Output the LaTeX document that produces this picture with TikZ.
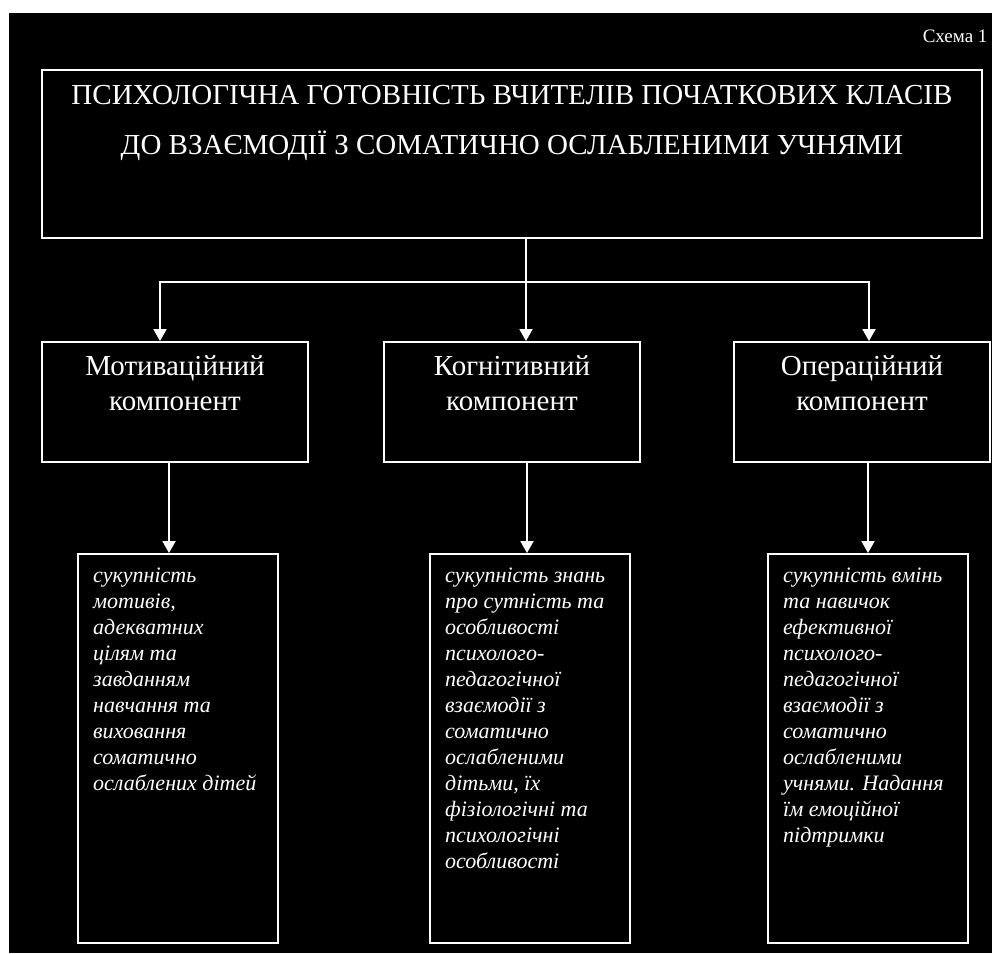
\documentclass[tikz,border=0pt]{standalone}
\usepackage{fontspec}
\setmainfont{Liberation Serif}
\usetikzlibrary{arrows.meta,positioning}

\begin{document}
\begin{tikzpicture}[x=1pt, y=-1pt, >={Triangle[length=12pt, width=13pt]},
    ramka/.style={draw=white, line width=2pt, rectangle, inner sep=0pt, anchor=north west},
    napys/.style={text=white, inner sep=0pt, align=center},
    opys/.style={text=white, inner sep=0pt, align=left, font=\fontsize{22}{26}\selectfont\itshape},
    zvyazok/.style={draw=white, line width=2pt}]
\useasboundingbox (0,0) rectangle (992,953);
\fill[black] (9,13) rectangle (992,953);
% Номер схеми
\node[text=white, anchor=base east, font=\fontsize{19}{19}\selectfont] (skhema) at (991,42) {Схема 1};
% Головний блок
\node[ramka, minimum width=940pt, minimum height=168pt] (golovna) at (41,69) {};
\node[napys, font=\fontsize{29}{50}\selectfont, below=0pt of golovna.north] (golovna-t)
    {\strut ПСИХОЛОГІЧНА ГОТОВНІСТЬ ВЧИТЕЛІВ ПОЧАТКОВИХ КЛАСІВ\\ДО ВЗАЄМОДІЇ З СОМАТИЧНО ОСЛАБЛЕНИМИ УЧНЯМИ};
% Компоненти
\node[ramka, minimum width=266pt, minimum height=120pt] (motyv) at (41,341) {};
\node[ramka, minimum width=256pt, minimum height=120pt] (kognit) at (383,341) {};
\node[ramka, minimum width=256pt, minimum height=120pt] (operac) at (733,341) {};
\node[napys, font=\fontsize{29}{35}\selectfont, below=9.5pt of motyv.north] (motyv-t) {\strut Мотиваційний\\компонент};
\node[napys, font=\fontsize{29}{35}\selectfont, below=9.5pt of kognit.north] (kognit-t) {\strut Когнітивний\\компонент};
\node[napys, font=\fontsize{29}{35}\selectfont, below=9.5pt of operac.north] (operac-t) {\strut Операційний\\компонент};
% Зміст компонентів
\node[ramka, minimum width=200pt, minimum height=389pt] (zmist1) at (77,553) {};
\node[ramka, minimum width=200pt, minimum height=389pt] (zmist2) at (429,553) {};
\node[ramka, minimum width=200pt, minimum height=389pt] (zmist3) at (767,553) {};
\node[opys, below right=11pt and 16pt of zmist1.north west] (zmist1-t)
    {\strut сукупність\\мотивів,\\адекватних\\цілям та\\завданням\\навчання та\\виховання\\соматично\\ослаблених дітей};
\node[opys, below right=11pt and 16pt of zmist2.north west] (zmist2-t)
    {\strut сукупність знань\\про сутність та\\особливості\\психолого-\\педагогічної\\взаємодії з\\соматично\\ослабленими\\дітьми, їх\\фізіологічні та\\психологічні\\особливості};
\node[opys, below right=11pt and 16pt of zmist3.north west] (zmist3-t)
    {\strut сукупність вмінь\\та навичок\\ефективної\\психолого-\\педагогічної\\взаємодії з\\соматично\\ослабленими\\учнями. Надання\\їм емоційної\\підтримки};
% Стрілки
\coordinate (rozg) at (526,282);
\draw[zvyazok] (golovna.south -| rozg) -- (rozg);
\draw[zvyazok,->] (rozg) -- (rozg |- kognit.north);
\draw[zvyazok,->] (rozg) -| ([xshift=-15pt]motyv.north);
\draw[zvyazok,->] (rozg) -| ([xshift=7pt]operac.north);
\draw[zvyazok,->] ([xshift=-9pt]zmist1.north |- motyv.south) -- ([xshift=-9pt]zmist1.north);
\draw[zvyazok,->] ([xshift=-3pt]zmist2.north |- kognit.south) -- ([xshift=-3pt]zmist2.north);
\draw[zvyazok,->] (zmist3.north |- operac.south) -- (zmist3.north);
\end{tikzpicture}
\end{document}
